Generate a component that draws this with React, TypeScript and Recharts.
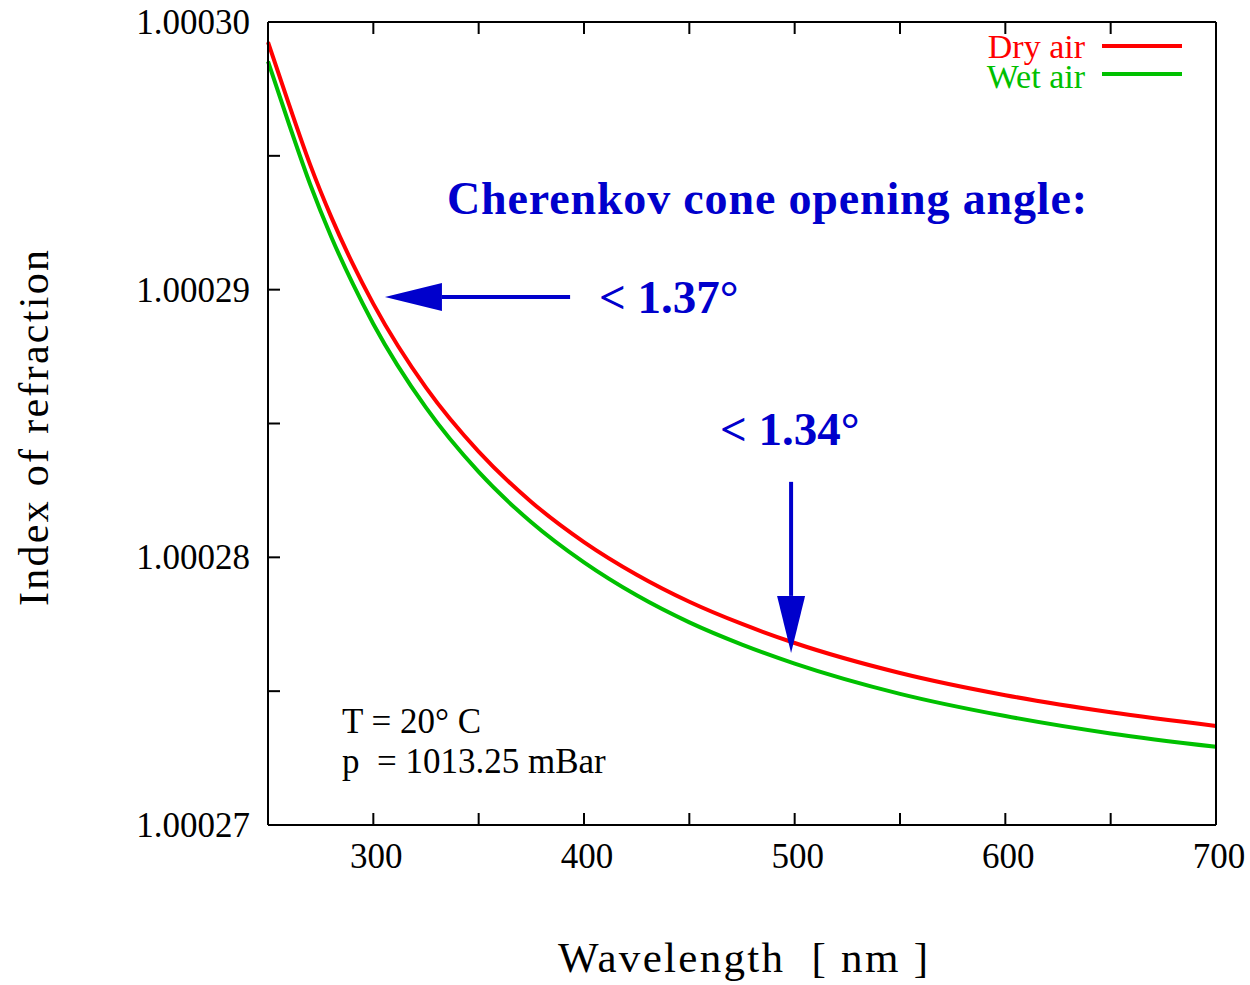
import { LineChart, Line, XAxis, YAxis, ReferenceLine } from 'recharts'

// wavelength grid in nm
const WAVELENGTHS = [250, 260, 270, 280, 290, 300, 325, 350, 375, 400, 425, 450, 475, 500, 550, 600, 650, 700]

// index of refraction, T = 20 C, p = 1013.25 mBar
const DRY_AIR = [
  1.00029925, 1.00029691, 1.00029467, 1.00029272, 1.000291, 1.00028947, 1.00028634, 1.00028395, 1.00028207,
  1.00028057, 1.00027935, 1.00027834, 1.00027751, 1.0002768, 1.00027568, 1.00027485, 1.00027421, 1.0002737,
]
const WET_AIR = [
  1.00029853, 1.00029618, 1.00029394, 1.00029198, 1.00029026, 1.00028872, 1.00028559, 1.00028319, 1.00028131,
  1.00027981, 1.00027858, 1.00027757, 1.00027674, 1.00027603, 1.0002749, 1.00027407, 1.00027342, 1.00027292,
]

const X_TICKS = [300, 350, 400, 450, 500, 550, 600, 650, 700]
const Y_TICKS = [1.00027, 1.000275, 1.00028, 1.000285, 1.00029, 1.000295, 1.0003]

// arrow annotations: [x1, y1, x2, y2] in data units, head at the second point
const ARROW_137 = [393.4, 1.00028973, 305.5, 1.00028973]
const ARROW_134 = [498.3, 1.00028282, 498.3, 1.00027643]

const RED = '#ff0000'
const GREEN = '#00c000'
const BLUE = '#0000cc'
const FONT = '"Liberation Serif", "Times New Roman", serif'
const TICK_LEN = 12

const data = WAVELENGTHS.map((w, i) => ({ w, dry: DRY_AIR[i], wet: WET_AIR[i] }))

function BottomTick({ x, y, payload }: any) {
  const v = payload.value
  return (
    <g>
      <line x1={x} y1={y} x2={x} y2={y - TICK_LEN} stroke="#000" strokeWidth={2} />
      {v % 100 === 0 && (
        <text x={x + 3} y={y + 43} textAnchor="middle" fontFamily={FONT} fontSize={35} fill="#000">
          {v}
        </text>
      )}
    </g>
  )
}

function TopTick({ x, y }: any) {
  return <line x1={x} y1={y} x2={x} y2={y + TICK_LEN} stroke="#000" strokeWidth={2} />
}

function LeftTick({ x, y, payload }: any) {
  const v = payload.value
  return (
    <g>
      <line x1={x} y1={y} x2={x + TICK_LEN} y2={y} stroke="#000" strokeWidth={2} />
      {Math.round(v * 1e6) % 10 === 0 && (
        <text x={x - 18} y={y + 12} textAnchor="end" fontFamily={FONT} fontSize={35} fill="#000">
          {v.toFixed(5)}
        </text>
      )}
    </g>
  )
}

function RightTick({ x, y }: any) {
  return <line x1={x} y1={y} x2={x - TICK_LEN} y2={y} stroke="#000" strokeWidth={2} />
}

// straight shaft with a filled triangular head
function Arrow(props: any) {
  const { x1, y1, x2, y2 } = props
  const dx = x2 - x1
  const dy = y2 - y1
  const len = Math.sqrt(dx * dx + dy * dy)
  const ux = dx / len
  const uy = dy / len
  const headLen = 57
  const half = 14
  const bx = x2 - ux * headLen
  const by = y2 - uy * headLen
  const pts = [
    `${x2},${y2}`,
    `${bx - uy * half},${by + ux * half}`,
    `${bx + uy * half},${by - ux * half}`,
  ].join(' ')
  return (
    <g>
      <line x1={x1} y1={y1} x2={bx} y2={by} stroke={BLUE} strokeWidth={4} />
      <polygon points={pts} fill={BLUE} />
    </g>
  )
}

export default function App() {
  return (
    <div style={{ position: 'absolute', left: 0, top: 0, width: 1250, height: 985, background: '#fff' }}>
      <LineChart
        width={1250}
        height={985}
        data={data}
        margin={{ top: 20, right: 30, left: 148, bottom: 100 }}
      >
        <XAxis
          xAxisId="b"
          dataKey="w"
          type="number"
          domain={[250, 700]}
          ticks={X_TICKS}
          height={60}
          tickSize={0}
          tickMargin={0}
          tickLine={false}
          axisLine={{ stroke: '#000', strokeWidth: 2 }}
          tick={<BottomTick />}
          interval={0}
        />
        <XAxis
          xAxisId="t"
          dataKey="w"
          type="number"
          orientation="top"
          domain={[250, 700]}
          ticks={X_TICKS}
          height={2}
          tickSize={0}
          tickMargin={0}
          tickLine={false}
          axisLine={{ stroke: '#000', strokeWidth: 2 }}
          tick={<TopTick />}
          interval={0}
        />
        <YAxis
          yAxisId="l"
          type="number"
          domain={[1.00027, 1.0003]}
          ticks={Y_TICKS}
          width={120}
          tickSize={0}
          tickMargin={0}
          tickLine={false}
          axisLine={{ stroke: '#000', strokeWidth: 2 }}
          tick={<LeftTick />}
          interval={0}
        />
        <YAxis
          yAxisId="r"
          orientation="right"
          type="number"
          domain={[1.00027, 1.0003]}
          ticks={Y_TICKS}
          width={4}
          tickSize={0}
          tickMargin={0}
          tickLine={false}
          axisLine={{ stroke: '#000', strokeWidth: 2 }}
          tick={<RightTick />}
          interval={0}
        />
        <Line
          xAxisId="b"
          yAxisId="l"
          type="monotone"
          dataKey="wet"
          stroke={GREEN}
          strokeWidth={4}
          dot={false}
          isAnimationActive={false}
        />
        <Line
          xAxisId="b"
          yAxisId="l"
          type="monotone"
          dataKey="dry"
          stroke={RED}
          strokeWidth={4}
          dot={false}
          isAnimationActive={false}
        />
        <ReferenceLine
          xAxisId="b"
          yAxisId="l"
          segment={[{ x: ARROW_137[0], y: ARROW_137[1] }, { x: ARROW_137[2], y: ARROW_137[3] }]}
          shape={<Arrow />}
        />
        <ReferenceLine
          xAxisId="b"
          yAxisId="l"
          segment={[{ x: ARROW_134[0], y: ARROW_134[1] }, { x: ARROW_134[2], y: ARROW_134[3] }]}
          shape={<Arrow />}
        />
      </LineChart>

      <svg
        width={1250}
        height={985}
        style={{ position: 'absolute', left: 0, top: 0, pointerEvents: 'none' }}
        fontFamily={FONT}
      >
        {/* legend */}
        <text x={1085} y={58} textAnchor="end" fontSize={34} fill={RED}>Dry air</text>
        <line x1={1102} y1={46} x2={1182} y2={46} stroke={RED} strokeWidth={4} />
        <text x={1085} y={88} textAnchor="end" fontSize={34} fill={GREEN}>Wet air</text>
        <line x1={1102} y1={74} x2={1182} y2={74} stroke={GREEN} strokeWidth={4} />

        {/* annotations */}
        <text x={447} y={214} fontSize={46} fontWeight="bold" fill={BLUE} textLength={640} lengthAdjust="spacing">
          Cherenkov cone opening angle:
        </text>
        <text x={599} y={313} fontSize={47} fontWeight="bold" fill={BLUE}>&lt; 1.37°</text>
        <text x={720} y={445} fontSize={47} fontWeight="bold" fill={BLUE}>&lt; 1.34°</text>

        <text x={342} y={733} fontSize={35} fill="#000" style={{ whiteSpace: 'pre' }}>T = 20° C</text>
        <text x={342} y={773} fontSize={35} fill="#000" style={{ whiteSpace: 'pre' }}>p  = 1013.25 mBar</text>

        {/* axis titles */}
        <text x={558} y={972} fontSize={43} fill="#000" textLength={370} lengthAdjust="spacing" style={{ whiteSpace: 'pre' }}>
          Wavelength  [ nm ]
        </text>
        <text
          transform="translate(48,606) rotate(-90)"
          fontSize={42}
          fill="#000"
          textLength={356}
          lengthAdjust="spacing"
        >
          Index of refraction
        </text>
      </svg>
    </div>
  )
}
